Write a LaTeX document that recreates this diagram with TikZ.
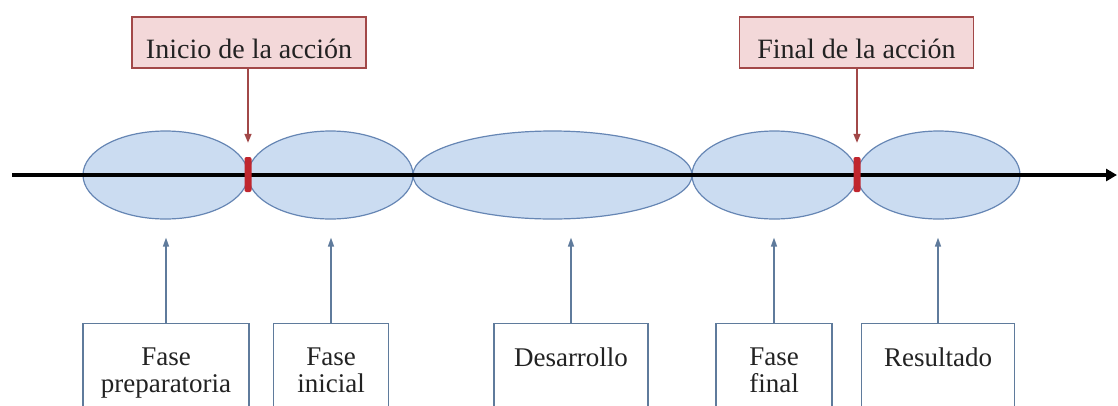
\documentclass[tikz,border=0pt]{standalone}
\usepackage{fontspec}
\setmainfont{Liberation Serif}
\newfontfamily\tnr{Liberation Serif}
\usetikzlibrary{arrows.meta,shapes.geometric}
\definecolor{ellfill}{HTML}{CBDCF1}
\definecolor{elldraw}{HTML}{6686B4}
\definecolor{topfill}{HTML}{F3D8D9}
\definecolor{topdraw}{HTML}{A24848}
\definecolor{markred}{HTML}{C0262E}
\definecolor{lowdraw}{HTML}{5F7B9C}
\definecolor{txt}{HTML}{222222}
\begin{document}
\begin{tikzpicture}[x=1pt,y=-1pt,
  phase/.style={ellipse, draw=elldraw, fill=ellfill, line width=1.2pt, inner sep=0pt},
  redmark/.style={rectangle, rounded corners=2pt, fill=markred, minimum width=7pt, minimum height=35pt, inner sep=0pt},
  topbox/.style={rectangle, draw=topdraw, fill=topfill, line width=1.2pt, minimum width=234pt, minimum height=51pt, inner xsep=0pt, inner ysep=0pt, text height=31pt, text depth=0pt, text=txt, font=\tnr\fontsize{28}{30}\selectfont},
  redarrow/.style={draw=topdraw, line width=1.5pt, -{Triangle[length=9pt,width=7pt]}},
  lowbox/.style={rectangle, draw=lowdraw, fill=white, line width=1.4pt, minimum height=130pt, anchor=north, inner sep=0pt},
  lowtext/.style={anchor=north, inner sep=0pt, align=center, text=txt, font=\tnr\fontsize{27}{27}\selectfont},
  bluearrow/.style={draw=lowdraw, line width=1.4pt, -{Triangle[length=9pt,width=6pt]}},
  axis/.style={draw=black, line width=3.3pt, -{Triangle[length=11pt,width=12pt]}}
]
\useasboundingbox (0,0) rectangle (1118,405);
\clip (0,0) rectangle (1118,405);

% phases
\node[phase, minimum width=165pt, minimum height=88pt] (e1) at (165.5,175) {};
\node[phase, minimum width=165pt, minimum height=88pt] (e2) at (330.5,175) {};
\node[phase, minimum width=279pt, minimum height=88pt] (e3) at (552.5,175) {};
\node[phase, minimum width=165pt, minimum height=88pt] (e4) at (774.5,175) {};
\node[phase, minimum width=163pt, minimum height=88pt] (e5) at (938.5,175) {};

% time axis
\coordinate (axstart) at (12,175);
\coordinate (axend) at (1117,175);
\draw[axis] (axstart) -- (axend);

% markers
\node[redmark] (m1) at (248,174.5) {};
\node[redmark] (m2) at (857,174.5) {};

% top labels
\node[topbox] (inicio) at (249,42.5) {Inicio de la acción};
\node[topbox] (final) at (856.5,42.5) {Final de la acción};
\draw[redarrow] (m1.north |- inicio.south) -- ([yshift=14pt]m1.north);
\draw[redarrow] (m2.north |- final.south) -- ([yshift=14pt]m2.north);

% bottom boxes
\node[lowbox, minimum width=166pt] (b1) at (166,323) {};
\node[lowbox, minimum width=115pt] (b2) at (331,323) {};
\node[lowbox, minimum width=154pt] (b3) at (571,323) {};
\node[lowbox, minimum width=116pt] (b4) at (774,323) {};
\node[lowbox, minimum width=153pt] (b5) at (938,323) {};

\node[lowtext] (t1) at ([yshift=-25pt]b1.north) {Fase\\preparatoria};
\node[lowtext] (t2) at ([yshift=-25pt]b2.north) {Fase\\inicial};
\node[lowtext] (t3) at ([yshift=-25pt]b3.north) {Desarrollo};
\node[lowtext] (t4) at ([yshift=-25pt]b4.north) {Fase\\final};
\node[lowtext] (t5) at ([yshift=-25pt]b5.north) {Resultado};

% arrows to phases
\path ([yshift=-18pt]e1.south) coordinate (e1b);
\path ([yshift=-18pt]e2.south) coordinate (e2b);
\path ([yshift=-18pt]e3.south) coordinate (e3b);
\path ([yshift=-18pt]e4.south) coordinate (e4b);
\path ([yshift=-18pt]e5.south) coordinate (e5b);
\draw[bluearrow] (b1.north) -- (e1b -| b1.north);
\draw[bluearrow] (b2.north) -- (e2b -| b2.north);
\draw[bluearrow] (b3.north) -- (e3b -| b3.north);
\draw[bluearrow] (b4.north) -- (e4b -| b4.north);
\draw[bluearrow] (b5.north) -- (e5b -| b5.north);
\end{tikzpicture}
\end{document}
